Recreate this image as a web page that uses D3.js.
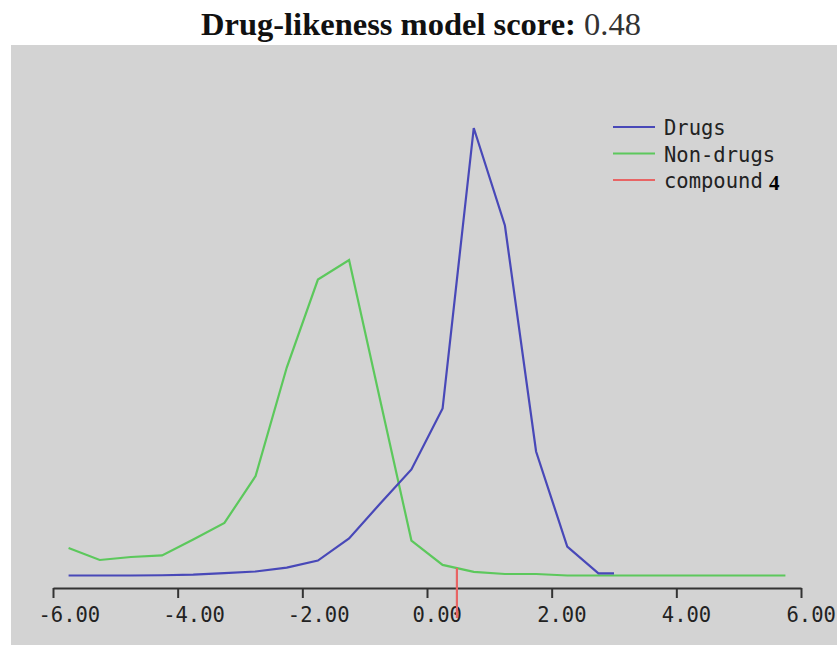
<!DOCTYPE html>
<html>
<head>
<meta charset="utf-8">
<script src="https://cdn.jsdelivr.net/npm/d3@7"></script>
<style>
	body { margin: 0; background: #fff; }
	svg { display: block; }
</style>
</head>
<body>
<script>
// score bins (bin centres) and frequency in % of each set
var drugBins = [-5.75, -5.25, -4.75, -4.25, -3.75, -3.25, -2.75, -2.25, -1.75, -1.25, -0.75, -0.25, 0.25, 0.75, 1.25, 1.75, 2.25, 2.75, 3.0];
var drugFreq = [0, 0, 0, 0.02, 0.07, 0.18, 0.29, 0.58, 1.09, 2.70, 5.25, 7.73, 12.17, 32.62, 25.51, 9.04, 2.11, 0.15, 0.15];

var nonDrugBins = [-5.75, -5.25, -4.75, -4.25, -3.75, -3.25, -2.75, -2.25, -1.75, -1.25, -0.75, -0.25, 0.25, 0.75, 1.25, 1.75, 2.25, 2.75, 3.25, 3.75, 4.25, 4.75, 5.25, 5.75];
var nonDrugFreq = [2.00, 1.13, 1.35, 1.46, 2.62, 3.83, 7.25, 15.16, 21.57, 23.00, 12.76, 2.55, 0.77, 0.26, 0.11, 0.11, 0, 0, 0, 0, 0, 0, 0, 0];

var compoundScore = 0.48;
var xTicks = [-6, -4, -2, 0, 2, 4, 6];
var legendLabels = ["Drugs", "Non-drugs", "compound"];
var legendColors = ["#4848b8", "#5cc85c", "#e86464"];

var width = 837, height = 650;

var svg = d3.select("body").append("svg")
	.attr("width", width)
	.attr("height", height);

// grey plot panel
svg.append("rect")
	.attr("x", 11)
	.attr("y", 45)
	.attr("width", 826)
	.attr("height", 600)
	.attr("fill", "#d3d3d3");

// title
var title = svg.append("text")
	.attr("x", 421)
	.attr("y", 35)
	.attr("text-anchor", "middle")
	.style("font-family", "'Liberation Serif', 'Times New Roman', serif")
	.style("font-size", "32.5px");
title.append("tspan")
	.style("font-weight", "bold")
	.attr("fill", "#111")
	.text("Drug-likeness model score:");
title.append("tspan")
	.attr("fill", "#333")
	.text(" " + compoundScore.toFixed(2));

var x = d3.scaleLinear().domain([-6, 6]).range([53, 801]);
var y = d3.scaleLinear().domain([0, 32.62]).range([575.5, 128]);
var axisY = 588;

// x axis
var axis = svg.append("g")
	.attr("transform", "translate(0," + axisY + ")")
	.call(d3.axisBottom(x).tickValues(xTicks).tickSize(10).tickSizeOuter(0).tickFormat(d3.format(".2f")));
axis.select(".domain").attr("stroke", "#333").attr("stroke-width", 2);
axis.selectAll(".tick line").attr("stroke", "#333").attr("stroke-width", 2);
axis.selectAll(".tick text")
	.attr("x", -15)
	.attr("y", 0)
	.attr("dy", "34px")
	.attr("text-anchor", "start")
	.attr("fill", "#222")
	.style("font-family", "'DejaVu Sans Mono', monospace")
	.style("font-size", "20.5px")
	.text(function (d) { return d3.format(".2f")(d).replace("−", "-"); });

var line = d3.line()
	.x(function (d) { return x(d[0]); })
	.y(function (d) { return y(d[1]); });

svg.append("path")
	.datum(d3.zip(nonDrugBins, nonDrugFreq))
	.attr("d", line)
	.attr("fill", "none")
	.attr("stroke", legendColors[1])
	.attr("stroke-width", 2.2);

svg.append("path")
	.datum(d3.zip(drugBins, drugFreq))
	.attr("d", line)
	.attr("fill", "none")
	.attr("stroke", legendColors[0])
	.attr("stroke-width", 2.2);

// compound marker
svg.append("line")
	.attr("x1", x(compoundScore))
	.attr("x2", x(compoundScore))
	.attr("y1", y(0.55))
	.attr("y2", axisY + 30)
	.attr("stroke", legendColors[2])
	.attr("stroke-width", 2.2);

// legend
var legend = svg.selectAll(".legend")
	.data(legendLabels)
	.enter().append("g")
	.attr("class", "legend")
	.attr("transform", function (d, i) {
		return "translate(613," + (127 + i * 26.5) + ")";
	});

legend.append("line")
	.attr("x1", 0)
	.attr("x2", 42)
	.attr("stroke", function (d, i) { return legendColors[i]; })
	.attr("stroke-width", 2.2);

legend.append("text")
	.attr("x", 51)
	.attr("y", 8)
	.attr("fill", "#222")
	.style("font-family", "'DejaVu Sans Mono', monospace")
	.style("font-size", "20.5px")
	.text(function (d) { return d; });

legend.filter(function (d) { return d === "compound"; })
	.append("text")
	.attr("x", 156)
	.attr("y", 10)
	.attr("fill", "#000")
	.style("font-family", "'Liberation Serif', serif")
	.style("font-weight", "bold")
	.style("font-size", "21px")
	.text("4");
</script>
</body>
</html>
